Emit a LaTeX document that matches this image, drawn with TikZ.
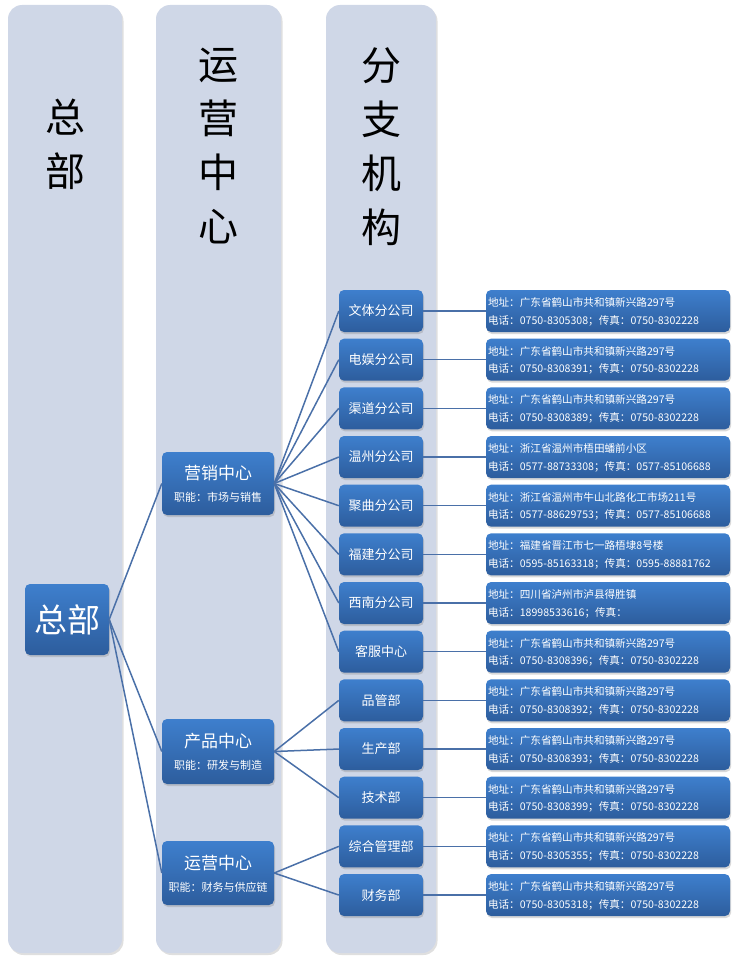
\documentclass[tikz,border=0pt]{standalone}
\usepackage{fontspec}
\setmainfont{Noto Sans CJK SC}
\usetikzlibrary{shadows}
\definecolor{colbg}{HTML}{CFD7E7}
\definecolor{ntop}{HTML}{3E7FCD}
\definecolor{nbot}{HTML}{2D5D9D}
\definecolor{linec}{HTML}{4A70A8}
\tikzset{
  colbox/.style={fill=colbg, rounded corners=14pt, drop shadow={opacity=0.25, shadow xshift=1.5pt, shadow yshift=-2pt}},
  coltitle/.style={font=\fontsize{40}{54}\selectfont, align=center, text=black, inner sep=0pt},
  bluebox/.style={rectangle, rounded corners=5pt, top color=ntop, bottom color=nbot, draw=none, text=white, inner sep=0pt,
    drop shadow={opacity=0.3, shadow xshift=1pt, shadow yshift=-2pt}},
  branch/.style={bluebox, minimum width=84pt, minimum height=42pt, font=\fontsize{13}{15}\selectfont},
  addr/.style={bluebox, minimum width=244pt, minimum height=42pt},
  addrtext/.style={text=white, inner sep=0pt, font=\fontsize{10.6}{13}\selectfont, anchor=west},
  centerbox/.style={bluebox, minimum width=112pt},
  ctitle/.style={text=white, inner sep=0pt, font=\fontsize{17}{20}\selectfont},
  csub/.style={text=white, inner sep=0pt, font=\fontsize{11}{13}\selectfont},
  conn/.style={draw=linec, line width=1.5pt},
}
\newcommand\orgrow[5]{%
  \node[branch] (b#1) at (381,{311+48.67*#1}) {#2};
  \node[addr] (a#1) at (608,{311+48.67*#1}) {};
  \node[addrtext] (ta#1) at ([xshift=2pt,yshift=8.5pt]a#1.west) {地址：#3};
  \node[addrtext] (tb#1) at ([xshift=2pt,yshift=-9.5pt]a#1.west) {电话：#4};
  \draw[conn] (#5.east) -- (b#1.west);
  \draw[conn] (b#1.east) -- (a#1.west);
}
\begin{document}
\begin{tikzpicture}[x=1pt,y=-1pt]
\path[use as bounding box] (0,0) rectangle (736,963);
% columns
\path[colbox] (8,5) rectangle (122,953);
\path[colbox] (156,5) rectangle (281,953);
\path[colbox] (326,5) rectangle (436,953);
\node[coltitle] (t1) at (65,144) {总\\部};
\node[coltitle] (t2) at (218,146) {运\\营\\中\\心};
\node[coltitle] (t3) at (381,147) {分\\支\\机\\构};
% head node
\node[bluebox, minimum width=84pt, minimum height=71pt, font=\fontsize{33}{36}\selectfont] (hq) at (67,619.5) {总部};
% center nodes
\node[centerbox, minimum height=63pt] (yx) at (218,483.5) {};
\node[ctitle] (yxt) at ([yshift=10pt]yx.center) {营销中心};
\node[csub] (yxs) at ([yshift=-14pt]yx.center) {职能：市场与销售};
\node[centerbox, minimum height=65pt] (cp) at (218,751.5) {};
\node[ctitle] (cpt) at ([yshift=10pt]cp.center) {产品中心};
\node[csub] (cps) at ([yshift=-14pt]cp.center) {职能：研发与制造};
\node[centerbox, minimum height=64pt] (yy) at (218,873) {};
\node[ctitle] (yyt) at ([yshift=10pt]yy.center) {运营中心};
\node[csub] (yys) at ([yshift=-14pt]yy.center) {职能：财务与供应链};
\draw[conn] (hq.east) -- (yx.west);
\draw[conn] (hq.east) -- (cp.west);
\draw[conn] (hq.east) -- (yy.west);
% rows
\orgrow{0}{文体分公司}{广东省鹤山市共和镇新兴路297号}{0750-8305308；传真：0750-8302228}{yx}
\orgrow{1}{电娱分公司}{广东省鹤山市共和镇新兴路297号}{0750-8308391；传真：0750-8302228}{yx}
\orgrow{2}{渠道分公司}{广东省鹤山市共和镇新兴路297号}{0750-8308389；传真：0750-8302228}{yx}
\orgrow{3}{温州分公司}{浙江省温州市梧田蟠前小区}{0577-88733308；传真：0577-85106688}{yx}
\orgrow{4}{聚曲分公司}{浙江省温州市牛山北路化工市场211号}{0577-88629753；传真：0577-85106688}{yx}
\orgrow{5}{福建分公司}{福建省晋江市七一路梧埭8号楼}{0595-85163318；传真：0595-88881762}{yx}
\orgrow{6}{西南分公司}{四川省泸州市泸县得胜镇}{18998533616；传真：}{yx}
\orgrow{7}{客服中心}{广东省鹤山市共和镇新兴路297号}{0750-8308396；传真：0750-8302228}{yx}
\orgrow{8}{品管部}{广东省鹤山市共和镇新兴路297号}{0750-8308392；传真：0750-8302228}{cp}
\orgrow{9}{生产部}{广东省鹤山市共和镇新兴路297号}{0750-8308393；传真：0750-8302228}{cp}
\orgrow{10}{技术部}{广东省鹤山市共和镇新兴路297号}{0750-8308399；传真：0750-8302228}{cp}
\orgrow{11}{综合管理部}{广东省鹤山市共和镇新兴路297号}{0750-8305355；传真：0750-8302228}{yy}
\orgrow{12}{财务部}{广东省鹤山市共和镇新兴路297号}{0750-8305318；传真：0750-8302228}{yy}
\end{tikzpicture}
\end{document}
